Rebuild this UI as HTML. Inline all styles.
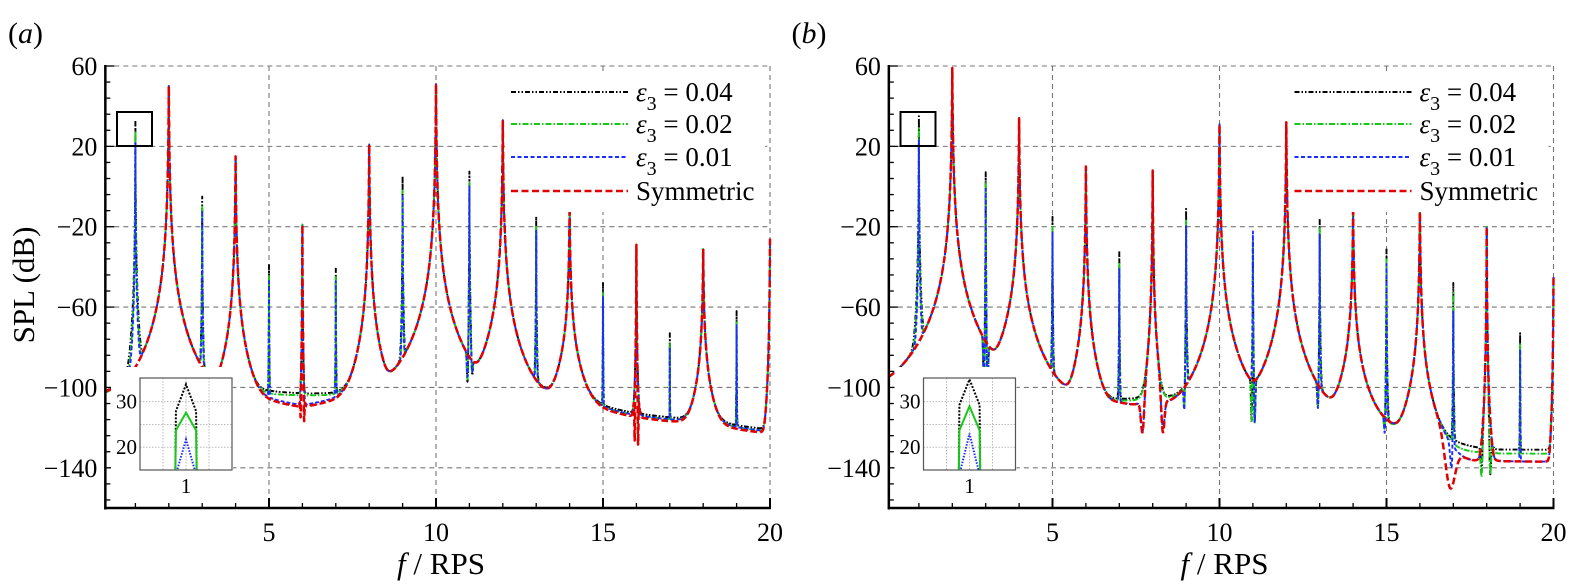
<!DOCTYPE html>
<html><head><meta charset="utf-8"><style>
html,body{margin:0;padding:0;background:#fff}
svg{display:block;font-family:"Liberation Serif","DejaVu Serif","Times New Roman",serif}
text,tspan{font-family:"Liberation Serif","DejaVu Serif","Times New Roman",serif}
</style></head><body>
<svg id="chart" width="1569" height="585" viewBox="0 0 1569 585" xmlns="http://www.w3.org/2000/svg"></svg>
<script>
// ---------- data ----------
const mainFreqs = [2,4,6,8,10,12,14,16,18,20];
const aMainLevel = [50,15,-19,21,51,33,-10,-29,-31,-26];
const aMainDecay = [70,63,70,66,68,65,52,60,50,75];
const aMainWidth = [0.01,0.01,0.004,0.01,0.01,0.01,0.01,0.004,0.01,0.01];
const bMainLevel = [59,34,10,8,31,32,-10,-10,-20,-45];
const bMainDecay = [68,63,64,70,65,66,54,60,75,80];
const bMainWidth = [0.01,0.01,0.01,0.008,0.01,0.01,0.01,0.01,0.006,0.01];

const spikeFreqs = [1,3,5,7,9,11,13,15,17,19];
const aSpikeBlack = [33,-5,-39,-40,5,9,-15,-48,-73,-62];
const aSpikeGreen = [27,-10,-44,-45,-2,3,-20,-53,-78,-67];
const aSpikeBlue  = [22,-12,-46,-47,-4,1,-22,-55,-80,-69];
const bSpikeBlack = [35,11,-15,-32,-10,-12,-15,-30,-48,-73];
const bSpikeGreen = [29,5,-20,-38,-16,-18,-20,-35,-53,-78];
const bSpikeBlue  = [23,2,-23,-41,-19,-21,-23,-38,-56,-81];

const floorFreqs = [0,1,2,3,4,5,6,7,8,9,10,11,12,13,14,15,16,17,18,19,20];
const aFloorBlack = [-103,-98,-100,-100,-103,-102,-103,-103,-100,-97,-97,-98,-99,-103,-106,-110,-113,-115,-117,-119,-121];
const aFloorGreen = [-104,-99,-101,-101,-104,-103.5,-104,-104,-101,-98,-98,-99,-100,-104,-107,-111,-114,-116,-118,-120,-122];
const aFloorBlue  = [-103,-100,-100,-100,-104,-106,-109,-106,-100,-98,-98,-100,-100,-104,-108,-111,-114,-116,-118,-120,-122];
const aFloorRed   = [-103,-100,-100,-100,-104,-107,-110,-107,-100,-98,-98,-100,-100,-104,-108,-112,-115,-117,-119,-121,-123];
const bFloorBlack = [-100,-100,-100,-100,-105,-105,-107,-106,-105,-106,-108,-110,-110,-112,-115,-121,-124,-128,-131,-131,-131];
const bFloorGreen = [-100,-100,-100,-100,-105,-105,-107,-107,-106,-107,-108,-110,-110,-112,-115,-122,-126,-132,-133,-133,-133];
const bFloorBlue  = [-100,-100,-100,-100,-105,-105,-108,-108,-110,-108,-108,-110,-110,-112,-115,-120,-128,-140,-137,-137,-137];
const bFloorRed   = [-100,-100,-100,-100,-105,-105,-108,-108,-110,-108,-108,-110,-110,-112,-115,-120,-128,-140,-137,-137,-137];

const aDipFBlack = [10.95,11.08], aDipLBlack = [-95,-93], aDipWBlack = [0.03,0.03];
const aDipFGreen = [10.95,11.08], aDipLGreen = [-94,-92], aDipWGreen = [0.03,0.03];
const aDipFBlue  = [10.95,11.08], aDipLBlue  = [-93,-92], aDipWBlue  = [0.03,0.03];
const aDipFRed   = [5.95,6.05,15.95,16.05], aDipLRed = [-114,-116,-126,-128], aDipWRed = [0.015,0.015,0.015,0.015];
const bDipFBlack = [2.95,3.05,8.95,10.97,11.05,12.95,14.95,17.85,18.1], bDipLBlack = [-97,-100,-106,-113,-116,-108,-118,-141,-142], bDipWBlack = [0.03,0.03,0.03,0.03,0.03,0.03,0.03,0.04,0.04];
const bDipFGreen = [2.95,3.05,8.95,10.97,11.05,12.95,14.95,17.85,18.1], bDipLGreen = [-97,-102,-108,-113,-117,-108,-119,-144,-142], bDipWGreen = [0.03,0.03,0.03,0.03,0.03,0.03,0.03,0.04,0.04];
const bDipFBlue  = [2.95,3.05,8.95,11.05,12.95,14.95,16.95,7.7,8.3], bDipLBlue = [-98,-103,-110,-117,-110,-122,-140,-122,-120], bDipWBlue = [0.03,0.03,0.03,0.03,0.03,0.03,0.06,0.07,0.07];
const bDipFRed   = [7.7,8.3,16.9], bDipLRed = [-122,-122,-150], bDipWRed = [0.07,0.07,0.2];

const insetF = [0.9905,0.9912,1.0,1.0088,1.0095];
const aInsetBlack = [10,27.9,33.8,27.9,10];
const aInsetGreen = [10,23.7,27.6,23.7,10];
const aInsetBlue  = [10,14,21.7,14,10];
const bInsetBlack = [10,29.3,34.9,29.3,10];
const bInsetGreen = [10,23.7,29.0,23.7,10];
const bInsetBlue  = [10,14,23.0,14,10];

const yTicks = [60,20,-20,-60,-100,-140];
const xTicks = [5,10,15,20];
const legendLabels = ["0.04","0.02","0.01","Symmetric"];

// ---------- drawing ----------
const NS = "http://www.w3.org/2000/svg";
const svg = document.getElementById("chart");
const FONT = "'Liberation Serif', 'DejaVu Serif', 'Times New Roman', serif";
function mk(tag, attrs, parent){const e=document.createElementNS(NS,tag);for(const k in attrs)e.setAttribute(k,attrs[k]);if(tag==="text"){e.setAttribute("font-family",FONT);e.style.fontFamily=FONT;}(parent||svg).appendChild(e);return e;}

const styles = [
  {color:"#000000", dash:"5,2,1.5,2,1.5,2", w:1.9, name:"eps-0-04"},
  {color:"#18c818", dash:"6,2,1.5,2", w:1.9, name:"eps-0-02"},
  {color:"#1a2cff", dash:"4,2.5", w:1.9, name:"eps-0-01"},
  {color:"#e00000", dash:"7,3.5", w:2.5, name:"symmetric"}
];

function interp(fs, vs, f){
  if (f<=fs[0]) return vs[0];
  for (let i=1;i<fs.length;i++){ if (f<=fs[i]){const t=(f-fs[i-1])/(fs[i]-fs[i-1]);return vs[i-1]+t*(vs[i]-vs[i-1]);} }
  return vs[vs.length-1];
}
function baseSpectrum(f, mainLevel, mainDecay, mainWidth, spikes, floorV){
  let s = Math.pow(10, interp(floorFreqs, floorV, f)/10);
  for (let i=0;i<mainFreqs.length;i++){
    const v = mainLevel[i] - mainDecay[i]*Math.log10(1+Math.abs(f-mainFreqs[i])/mainWidth[i]);
    s += Math.pow(10, v/10);
  }
  if (spikes) for (let i=0;i<spikeFreqs.length;i++){
    const v = spikes[i] - 70*Math.log10(1+Math.abs(f-spikeFreqs[i])/0.004);
    s += Math.pow(10, v/10);
  }
  return 10*Math.log10(s);
}

function panel(id, ox, label, mainLevel, mainDecay, mainWidth, spikeSets, floors, dips, insetSets){
  const x0 = ox + 102, xs = 33.4;
  const yTop = 66, ys = 442/220;
  const X = f => x0 + f*xs;
  const Y = v => yTop + (60 - v)*ys;
  const left = X(0.1), right = X(20), top = Y(60), bottom = Y(-160);
  const g = mk("g", { });
  const cp = mk("clipPath", {id:"clip-"+id}, g);
  mk("rect", {x:left, y:top-2, width:right-left+2, height:bottom-top+2}, cp);

  const t = mk("text", {x:ox+8, y:43, "font-size":"30", fill:"#000",  }, g);
  t.innerHTML = '(<tspan font-style="italic">'+label+'</tspan>)';

  const grid = mk("g", {  stroke:"#777", "stroke-width":"1.1", "stroke-dasharray":"5,4"}, g);
  yTicks.forEach(v => mk("line", {x1:left, x2:right, y1:Y(v), y2:Y(v)}, grid));
  xTicks.forEach(v => mk("line", {x1:X(v), x2:X(v), y1:top, y2:bottom}, grid));

  const sg = mk("g", {"clip-path":"url(#clip-"+id+")",  }, g);
  for (let s=0;s<4;s++){
    const dF = dips[s][0], dL = dips[s][1], dW = dips[s][2];
    const depth = dF.map((fd,k) => Math.max(0, baseSpectrum(fd, mainLevel, mainDecay, mainWidth, spikeSets[s], floors[s]) - dL[k]));
    let d = "";
    for (let i=50;i<=10000;i++){
      const f = i/500;
      let v = baseSpectrum(f, mainLevel, mainDecay, mainWidth, spikeSets[s], floors[s]);
      for (let k=0;k<dF.length;k++){ const u=(f-dF[k])/dW[k]; if (Math.abs(u)<4) v -= depth[k]*Math.exp(-u*u); }
      d += (i===50?"M":"L") + X(f).toFixed(1) + " " + Y(Math.max(v,-170)).toFixed(1);
    }
    const p = mk("path", {d:d, fill:"none", stroke:styles[s].color, "stroke-width":styles[s].w, "stroke-dasharray":styles[s].dash, "stroke-linejoin":"round"}, sg);
    
    
  }

  const ax = mk("g", {  stroke:"#000"}, g);
  mk("line", {x1:left, x2:left, y1:top-1, y2:bottom+1.5, "stroke-width":"2.5"}, ax);
  mk("line", {x1:left-1, x2:right+1, y1:bottom, y2:bottom, "stroke-width":"2.5"}, ax);
  for (let v=60; v>=-160; v-=8){ const major = yTicks.includes(v); mk("line",{x1:left,x2:left+(major?9:5),y1:Y(v),y2:Y(v),"stroke-width":"1.3"},ax); }
  for (let f=1; f<=20; f++){ const major = xTicks.includes(f); mk("line",{x1:X(f),x2:X(f),y1:bottom,y2:bottom-(major?10:5),"stroke-width":major?"2":"1.3"},ax); }
  const tl = mk("g", {"font-size":"26", fill:"#000",  }, g);
  yTicks.forEach(v => { const e = mk("text",{x:left-8, y:Y(v)+9, "text-anchor":"end", "font-size":"26"}, tl); e.textContent = (v<0?"\u2212":"")+Math.abs(v); });
  xTicks.forEach(v => { const e = mk("text",{x:X(v), y:541, "text-anchor":"middle", "font-size":"26"}, tl); e.textContent = v; });
  const xt = mk("text", {x:X(10)+5, y:574, "text-anchor":"middle", "font-size":"31",  }, g);
  xt.innerHTML = '<tspan font-style="italic">f</tspan> / RPS';
  if (id==="a"){
    const yt = mk("text", {x:0, y:0, transform:"translate(34,285) rotate(-90)", "text-anchor":"middle", "font-size":"31",  }, g);
    yt.textContent = "SPL (dB)";
  }

  const lg = mk("g", { }, g);
  mk("rect", {x:ox+505, y:72, width:260, height:140, fill:"#fff"}, lg);
  const ly = [92,124,157,191];
  for (let s=0;s<4;s++){
    const e = mk("g", {}, lg);
    
    
    mk("line", {x1:ox+511, x2:ox+628, y1:ly[s], y2:ly[s], stroke:styles[s].color, "stroke-width":styles[s].w, "stroke-dasharray":styles[s].dash}, e);
    const tx = mk("text", {x:ox+636, y:ly[s]+9, "font-size":"27", fill:"#000"}, e);
    if (s<3) tx.innerHTML = '<tspan font-style="italic">\u03B5</tspan><tspan font-size="20" dy="9">3</tspan><tspan dy="-9"> = '+legendLabels[s]+'</tspan>';
    else tx.textContent = legendLabels[s];
  }

  mk("rect", {x:ox+117, y:112, width:35, height:34, fill:"none", stroke:"#000", "stroke-width":"2",  }, g);

  const ig = mk("g", { }, g);
  mk("rect", {x:ox+111, y:367, width:122, height:134, fill:"#fff"}, ig);
  const ix0 = ox+140, ix1 = ox+232, iy0 = 378, iy1 = 470;
  const IX = f => ix0 + (f-0.96)/0.08*(ix1-ix0);
  const IY = v => iy1 - (v-15)/20.2*(iy1-iy0);
  const icp = mk("clipPath", {id:"iclip-"+id}, ig);
  mk("rect", {x:ix0, y:iy0, width:ix1-ix0, height:iy1-iy0}, icp);
  [0.98,1.0,1.02].forEach(f => mk("line",{x1:IX(f),x2:IX(f),y1:iy0,y2:iy1,stroke:"#bbb","stroke-width":"1","stroke-dasharray":"1.5,1.5"},ig));
  [20,25,30].forEach(v => mk("line",{x1:ix0,x2:ix1,y1:IY(v),y2:IY(v),stroke:"#bbb","stroke-width":"1","stroke-dasharray":"1.5,1.5"},ig));
  const idash = ["2,1.5","", "1.5,1.5"];
  for (let s=0;s<3;s++){
    const pts = insetF.map((f,i)=>IX(f).toFixed(1)+","+IY(insetSets[s][i]).toFixed(1)).join(" ");
    const pl = mk("polyline", {points:pts, fill:"none", stroke:styles[s].color, "stroke-width":"2", "stroke-dasharray":idash[s], "clip-path":"url(#iclip-"+id+")"}, ig);
    
    
  }
  mk("rect", {x:ix0, y:iy0, width:ix1-ix0, height:iy1-iy0, fill:"none", stroke:"#555", "stroke-width":"1.2"}, ig);
  [30,20].forEach(v => { const e = mk("text",{x:ix0-3,y:IY(v)+7,"text-anchor":"end","font-size":"21"},ig); e.textContent=v; });
  const one = mk("text",{x:IX(1.0),y:iy1+23,"text-anchor":"middle","font-size":"21"},ig); one.textContent="1";
}

panel("a", 0, "a", aMainLevel, aMainDecay, aMainWidth,
  [aSpikeBlack, aSpikeGreen, aSpikeBlue, null],
  [aFloorBlack, aFloorGreen, aFloorBlue, aFloorRed],
  [[aDipFBlack,aDipLBlack,aDipWBlack],[aDipFGreen,aDipLGreen,aDipWGreen],[aDipFBlue,aDipLBlue,aDipWBlue],[aDipFRed,aDipLRed,aDipWRed]],
  [aInsetBlack, aInsetGreen, aInsetBlue]);
panel("b", 783.5, "b", bMainLevel, bMainDecay, bMainWidth,
  [bSpikeBlack, bSpikeGreen, bSpikeBlue, null],
  [bFloorBlack, bFloorGreen, bFloorBlue, bFloorRed],
  [[bDipFBlack,bDipLBlack,bDipWBlack],[bDipFGreen,bDipLGreen,bDipWGreen],[bDipFBlue,bDipLBlue,bDipWBlue],[bDipFRed,bDipLRed,bDipWRed]],
  [bInsetBlack, bInsetGreen, bInsetBlue]);
</script>
</body></html>
